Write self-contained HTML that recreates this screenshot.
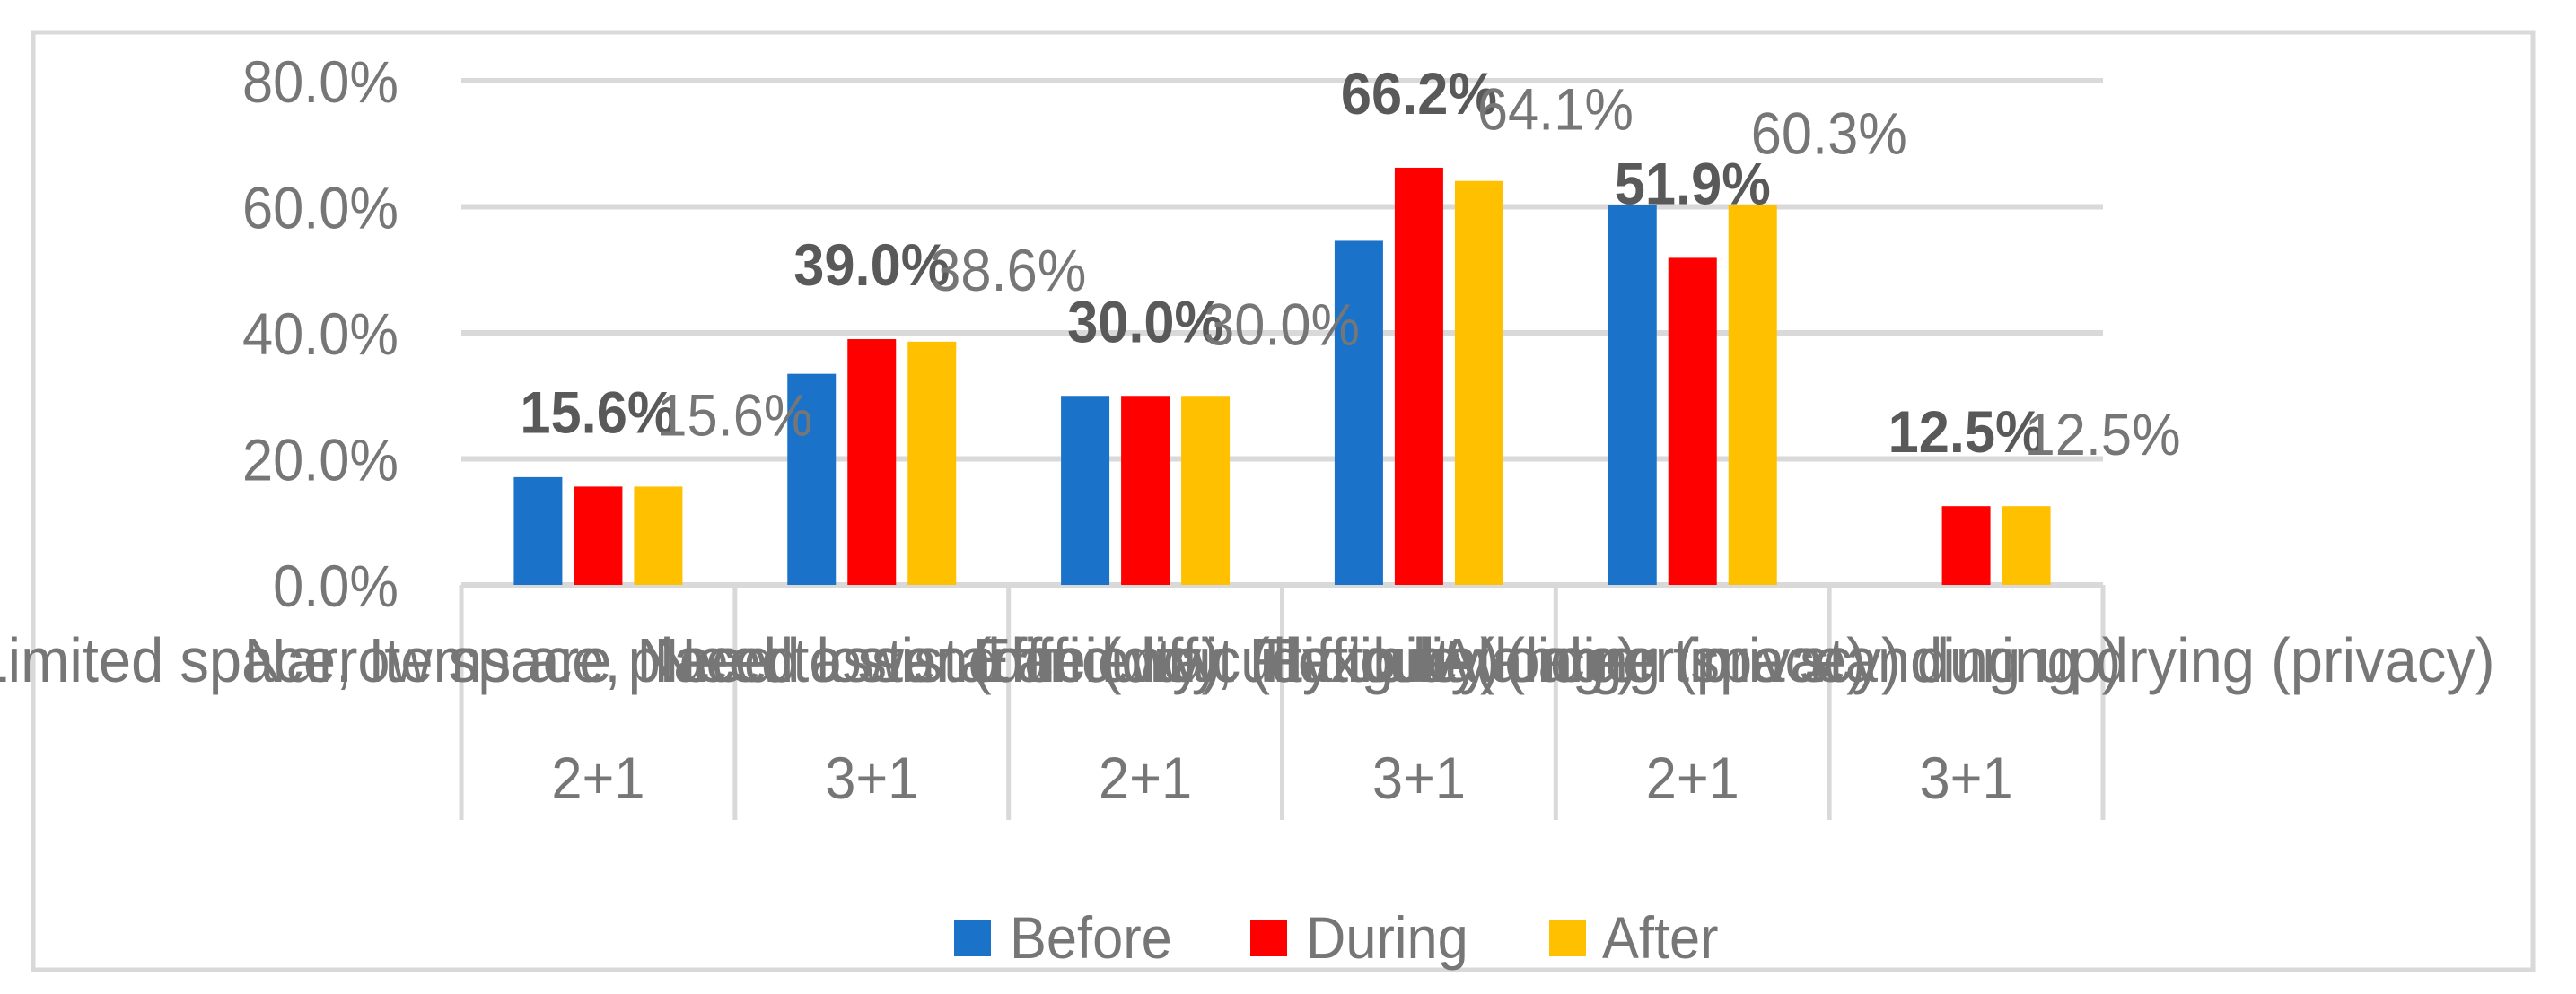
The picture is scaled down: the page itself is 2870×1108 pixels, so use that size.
<!DOCTYPE html>
<html><head><meta charset="utf-8"><style>
html,body{margin:0;padding:0;background:#fff;overflow:hidden}
svg{display:block;font-family:"Liberation Sans",sans-serif}
</style></head><body>
<svg id="chart" width="2870" height="1108" viewBox="0 0 2870 1108">
<rect x="37" y="36" width="2785" height="1045" fill="#fff" stroke="#d9d9d9" stroke-width="5"/>
<g id="grid"></g><g id="bars"></g><g id="cats"></g><g id="labels"></g>
<g>
<rect x="1063" y="1025" width="41" height="41" fill="#1a73c8"/>
<text transform="translate(1125,1068) scale(0.93,1)" font-size="66" fill="#767676">Before</text>
<rect x="1393" y="1025" width="41" height="41" fill="#ff0000"/>
<text transform="translate(1455,1068) scale(0.93,1)" font-size="66" fill="#767676">During</text>
<rect x="1726" y="1025" width="41" height="41" fill="#ffc000"/>
<text transform="translate(1785,1068) scale(0.93,1)" font-size="66" fill="#767676">After</text>
</g>
</svg>
<script>
const categories = ["Limited space, Items are placed lower (difficulty)","Narrow space, Need to stand and wait (difficulty)","Need assistance (difficulty to balance)","Efficiency, Flexibility (larger space)","Fatigue (longer time standing up)","Avoiding (privacy) during drying (privacy)"];
const groups = ["2+1","3+1","2+1","3+1","2+1","3+1"];
const before = [17.1, 33.5, 30.0, 54.6, 60.3, null];
const during = [15.6, 39.0, 30.0, 66.2, 51.9, 12.5];
const after = [15.6, 38.6, 30.0, 64.1, 60.3, 12.5];
const yTicks = [0, 20, 40, 60, 80];
const yTickLabels = ["0.0%","20.0%","40.0%","60.0%","80.0%"];

const NS = "http://www.w3.org/2000/svg";
const X0 = 514, X1 = 2343, Y0 = 652, YTOP = 90, YMAX = 80;
const gw = (X1 - X0) / categories.length;
const y = v => Y0 - (v / YMAX) * (Y0 - YTOP);
const gx = i => X0 + gw * i + gw / 2;
function mk(tag, attrs, parent, txt){ const e = document.createElementNS(NS, tag); for (const k in attrs) e.setAttribute(k, attrs[k]); if (txt !== undefined) e.textContent = txt; parent.appendChild(e); return e; }
function txt(x, yy, attrs, parent, s){ attrs.transform = 'translate(' + x + ',' + yy + ') scale(0.93,1)'; return mk('text', attrs, parent, s); }
const grid = document.getElementById('grid'), bars = document.getElementById('bars'), cats = document.getElementById('cats'), labels = document.getElementById('labels');

yTicks.forEach((t, i) => {
  const l = mk('line', {x1: X0, x2: X1, y1: y(t), y2: y(t), stroke: '#d9d9d9', 'stroke-width': 6}, grid);
  
  
  const tx = txt(444, y(t) + 24, {'font-size': 66, fill: '#767676', 'text-anchor': 'end'}, grid, yTickLabels[i]);
  
  
});
for (let k = 0; k <= categories.length; k++) {
  const l = mk('line', {x1: X0 + gw * k, x2: X0 + gw * k, y1: Y0, y2: 914, stroke: '#d9d9d9', 'stroke-width': 5}, grid);
  
  
}
const series = [{d: before, c: '#1a73c8', n: 'before'}, {d: during, c: '#ff0000', n: 'during'}, {d: after, c: '#ffc000', n: 'after'}];
const bw = 54, step = 67;
categories.forEach((c, i) => {
  series.forEach((s, j) => {
    const v = s.d[i];
    if (v === null) return;
    const r = mk('rect', {x: gx(i) + (j - 1) * step - bw / 2, y: y(v), width: bw, height: Y0 - y(v), fill: s.c}, bars);
    
    
  });
  const t = txt(gx(i), 760, {'font-size': 70, fill: '#767676', 'text-anchor': 'middle'}, cats, c);
  
  
  const g = txt(gx(i), 890, {'font-size': 66, fill: '#767676', 'text-anchor': 'middle'}, cats, groups[i]);
  
  
  const dl = txt(gx(i), y(during[i]) - 60, {'font-size': 66, 'font-weight': 'bold', fill: '#595959', 'text-anchor': 'middle'}, labels, during[i].toFixed(1) + '%');
  
  
  const al = txt(gx(i) + step + 85, y(after[i]) - 57, {'font-size': 66, fill: '#767676', 'text-anchor': 'middle'}, labels, after[i].toFixed(1) + '%');
  
  
});
</script>
</body></html>
